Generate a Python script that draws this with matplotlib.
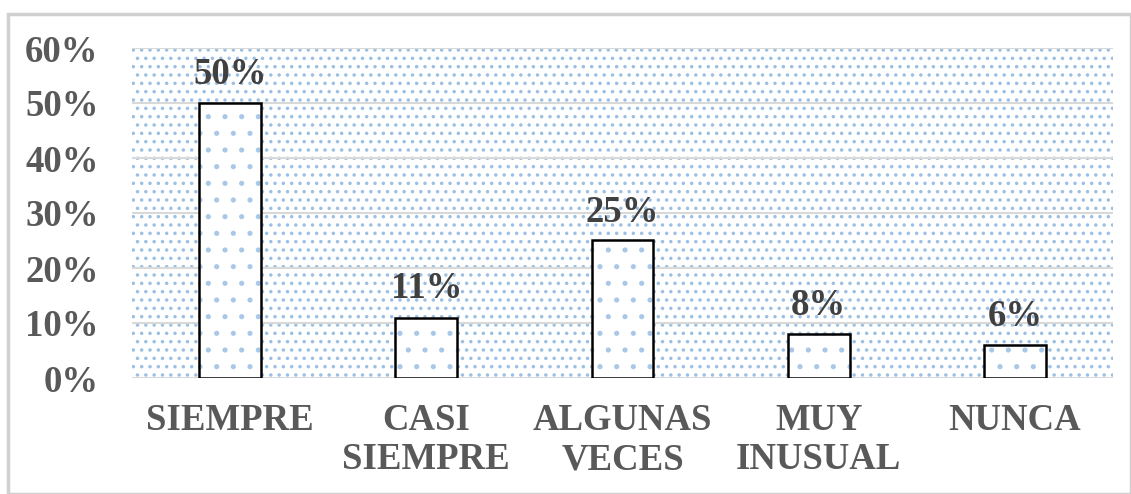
import numpy as np
import matplotlib.pyplot as plt
from matplotlib.patches import Rectangle

categorias = ["SIEMPRE", "CASI\nSIEMPRE", "ALGUNAS\nVECES", "MUY\nINUSUAL", "NUNCA"]
valores = [50, 11, 25, 8, 6]
ticks = [0, 10, 20, 30, 40, 50, 60]

plt.rcParams['font.family'] = ['Liberation Serif', 'DejaVu Serif']
plt.rcParams['hatch.linewidth'] = 1.3

fs = 26.5
fig = plt.figure(figsize=(11.31, 4.94), dpi=100)
# marco exterior gris
fig.patches.append(Rectangle((8/1131, 0), 1 - 8/1131, 1 - 14/494, transform=fig.transFigure,
                             fill=False, edgecolor='#d0d0d0', linewidth=2.5))

ax = fig.add_axes([132/1131, 1 - 378/494, 981/1131, 330/494])
x = np.arange(len(valores))

# fondo punteado azul
ax.add_patch(Rectangle((0, 0), 1, 1, transform=ax.transAxes, facecolor='white',
                       edgecolor='#9cc0e4', hatch='..', linewidth=0, zorder=0))
for t in ticks:
    ax.axhline(t, color='#d9d9d9', linewidth=1.5, zorder=1)

ax.bar(x, valores, width=0.316, color='white', edgecolor='#a9c8e8', hatch='.', linewidth=0, zorder=2)
ax.bar(x, valores, width=0.316, fill=False, edgecolor='black', linewidth=1.8, zorder=3)

for xi, v in zip(x, valores):
    ax.text(xi, v + 2.0, f"{v}%", ha='center', va='bottom', fontsize=fs,
            fontweight='bold', color='#404040', zorder=4)

ax.set_xlim(-0.5, len(valores) - 0.5)
ax.set_ylim(0, 60)
ax.set_yticks(ticks)
ax.set_yticklabels([f"{t}%" for t in ticks], fontsize=fs, fontweight='bold', color='#595959')
ax.set_xticks(x)
ax.set_xticklabels(categorias, fontsize=fs, fontweight='bold', color='#595959', linespacing=1.15)
ax.tick_params(length=0, pad=24, axis='y')
ax.tick_params(length=0, pad=18, axis='x')
for s in ax.spines.values():
    s.set_visible(False)

fig.savefig('out.png', dpi=100)
